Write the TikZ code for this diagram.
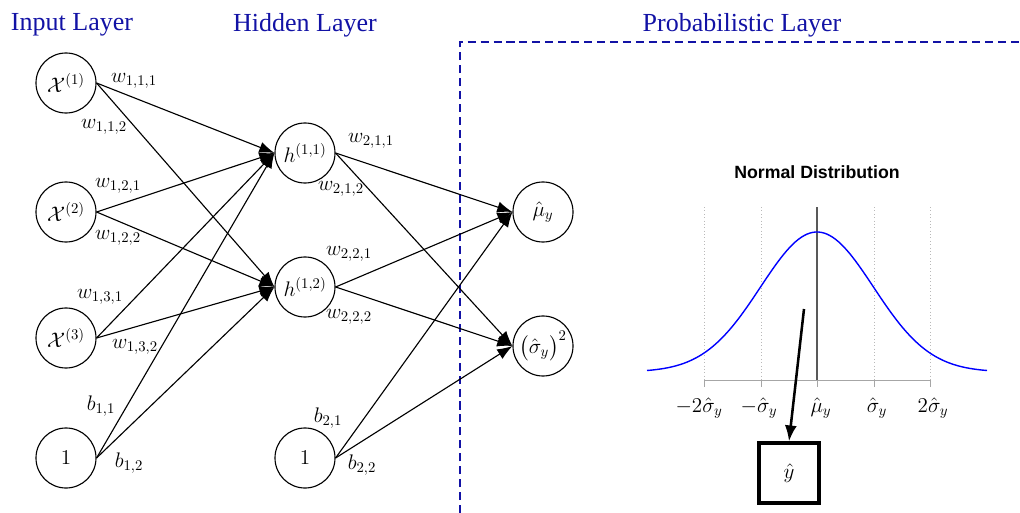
\RequirePackage{fix-cm}
\documentclass[tikz,border=0pt]{standalone}
\usepackage{amsmath,amssymb}
\usepackage{fontspec}
\newfontfamily\layerfont{Liberation Serif}
\newfontfamily\plotfont{Liberation Sans}
\usetikzlibrary{arrows.meta}
\definecolor{layerblue}{RGB}{18,18,165}

\begin{document}
\begin{tikzpicture}
		[x=0.025cm,y=-0.025cm,every node/.style={font=\fontsize{15}{18}\selectfont},
		neuron/.style={circle,draw,line width=0.8pt,minimum size=1.5cm,inner sep=0pt},
		edge/.style={-{Latex[length=3.8mm,width=2.8mm]},line width=0.8pt},
		layer/.style={font=\layerfont\fontsize{18.5}{22}\selectfont,text=layerblue}]
		\useasboundingbox (0,0) rectangle (1020,513);
		
		% layer titles
		\node[layer] (tin) at (72,25) {Input Layer};
		\node[layer] (thid) at (305,25) {Hidden Layer};
		\node[layer] (tprob) at (742,25) {Probabilistic Layer};
		\draw[layerblue,line width=1.8pt,dash pattern=on 5.7pt off 3.5pt] (460,513) -- (460,42) -- (1020,42);
		
		% neurons
		\node[neuron] (x1) at (66,83)  {$\mathcal{X}^{(1)}$};
		\node[neuron] (x2) at (66,212) {$\mathcal{X}^{(2)}$};
		\node[neuron] (x3) at (66,338) {$\mathcal{X}^{(3)}$};
		\node[neuron] (b1) at (66,458) {$1$};
		\node[neuron] (h1) at (305,153) {$h^{(1,1)}$};
		\node[neuron] (h2) at (305,287) {$h^{(1,2)}$};
		\node[neuron] (b2) at (305,458) {$1$};
		\node[neuron] (mu) at (543,212) {$\hat{\mu}_y$};
		\node[neuron] (sig) at (543,346) {$\bigl(\hat{\sigma}_y\bigr)^2$};
		
		\foreach \from/\to in {x1/h1,x1/h2,x2/h1,x2/h2,x3/h1,x3/h2,b1/h1,b1/h2,h1/mu,h1/sig,h2/mu,h2/sig,b2/mu,b2/sig}
		\draw[edge] (\from.east) -- (\to.west);
		
		% weights
		\node (w111) at (134,81)  {$w_{1,1,1}$};
		\node (w112) at (104,127) {$w_{1,1,2}$};
		\node (w121) at (118,186) {$w_{1,2,1}$};
		\node (w122) at (118,238) {$w_{1,2,2}$};
		\node (w131) at (100,297) {$w_{1,3,1}$};
		\node (w132) at (135,347) {$w_{1,3,2}$};
		\node (b11) at (101,406) {$b_{1,1}$};
		\node (b12) at (129,463) {$b_{1,2}$};
		\node (w211) at (371,141) {$w_{2,1,1}$};
		\node (w212) at (341,189) {$w_{2,1,2}$};
		\node (w221) at (349,254) {$w_{2,2,1}$};
		\node (w222) at (349,317) {$w_{2,2,2}$};
		\node (b21) at (328,418) {$b_{2,1}$};
		\node (b22) at (362,465) {$b_{2,2}$};
		
		% normal distribution
		\node[font=\plotfont\bfseries\fontsize{12.6}{15}\selectfont] (ndist) at (817,172) {Normal Distribution};
		\foreach \t in {704,761,874,930}
		\draw[gray!55,dotted] (\t,207) -- (\t,380);
		\draw[gray!70!black,line width=0.9pt] (817,207) -- (817,380);
		\draw[gray!70] (704,380) -- (930,380);
		\foreach \t in {704,761,817,874,930}
		\draw[gray!70] (\t,380) -- (\t,387);
		\draw[blue,line width=1pt,domain=647:987,samples=120] plot (\x,{372-140*exp(-0.5*((\x-817)/56.5)^2)});
		\node (tk1) at (699,408) {$-2\hat{\sigma}_y$};
		\node (tk2) at (759,408) {$-\hat{\sigma}_y$};
		\node (tk3) at (821,408) {$\hat{\mu}_y$};
		\node (tk4) at (877,408) {$\hat{\sigma}_y$};
		\node (tk5) at (933,408) {$2\hat{\sigma}_y$};
		
		\node[draw,line width=2.2pt,minimum size=1.5cm] (yhat) at (789,473) {$\hat{y}$};
		\coordinate (draw0) at (804,309);
		\draw[line width=1.8pt,-{Latex[length=4mm,width=3mm]}] (draw0) -- (yhat.north);
\end{tikzpicture}
\end{document}
